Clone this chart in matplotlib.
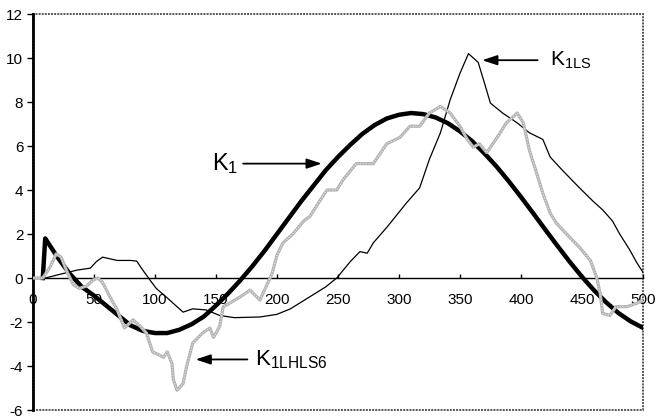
import matplotlib.pyplot as plt
from matplotlib.patches import Rectangle

plt.rcParams["font.family"] = ["Liberation Sans", "DejaVu Sans"]
plt.rcParams["mathtext.fontset"] = "custom"
plt.rcParams["mathtext.rm"] = "Liberation Sans"
plt.rcParams["mathtext.it"] = "Liberation Sans"

# K1 (thick black)
k1_x = [8, 10, 20, 30, 40, 50, 60, 70, 80, 90, 100, 110, 120, 130, 140,
        150, 160, 170, 180, 190, 200, 210, 220, 230, 240, 250, 260, 270, 280, 290,
        300, 310, 320, 330, 340, 350, 360, 370, 380, 390, 400, 410, 420, 430, 440,
        450, 460, 470, 480, 490, 500]
k1_y = [0, 1.8, 0.95, 0.2, -0.4, -0.8, -1.25, -1.7, -2.15, -2.4, -2.5, -2.5, -2.35, -2.1, -1.75,
        -1.25, -0.7, -0.1, 0.55, 1.25, 2.0, 2.75, 3.5, 4.2, 4.9, 5.5, 6.05, 6.55, 6.95, 7.25,
        7.42, 7.5, 7.45, 7.3, 7.04, 6.67, 6.22, 5.67, 5.07, 4.4, 3.69, 2.95, 2.2, 1.46, 0.74,
        0.06, -0.56, -1.11, -1.59, -1.97, -2.26]

# K1LS (thin black)
ls_x = [10, 20, 36, 47, 52, 57, 69, 80, 85, 90, 96, 101, 110, 123, 131, 142, 153, 165,
        186, 200, 211, 227, 240, 249, 260, 268, 274, 279, 290, 306, 317, 325, 334, 342,
        350, 357, 365, 371, 375, 385, 397, 407, 418, 424, 434, 448, 459, 467, 475, 481,
        489, 495, 500]
ls_y = [0, 0.14, 0.36, 0.45, 0.75, 0.95, 0.8, 0.8, 0.77, 0.36, -0.1, -0.47, -0.9, -1.55,
        -1.4, -1.45, -1.7, -1.8, -1.77, -1.65, -1.4, -0.85, -0.4, 0, 0.74, 1.2, 1.13, 1.6,
        2.3, 3.4, 4.1, 5.4, 6.6, 8.1, 9.3, 10.2, 9.8, 8.7, 7.95, 7.5, 7.05, 6.6, 6.3, 5.5,
        4.9, 4.1, 3.5, 3.1, 2.6, 2.0, 1.3, 0.7, 0.27]

# K1LHLS6 (grey)
lh_x = [0, 8, 14, 19, 23, 28, 33, 38, 44, 49, 53, 57, 63, 69, 75, 82, 88, 93, 98, 107,
        110, 114, 115, 118, 123, 126, 131, 139, 145, 148, 153, 156, 161, 170, 178, 186,
        191, 196, 200, 205, 213, 222, 227, 235, 241, 249, 254, 265, 279, 290, 301, 309,
        317, 325, 334, 342, 350, 356, 361, 366, 372, 377, 383, 388, 397, 402, 407, 413,
        418, 424, 429, 440, 448, 457, 462, 465, 467, 473, 478, 487, 495, 500]
lh_y = [0, 0, 0.5, 1.1, 0.95, 0.27, -0.3, -0.47, -0.36, -0.1, 0, -0.2, -0.85, -1.45,
        -2.27, -1.9, -2.2, -2.5, -3.35, -3.6, -3.35, -3.9, -4.6, -5.1, -4.8, -4.0, -2.95,
        -2.5, -2.27, -2.7, -2.2, -1.3, -1.15, -0.85, -0.55, -1.0, -0.4, 0.2, 1.05, 1.6,
        2.0, 2.6, 2.8, 3.5, 4.0, 4.0, 4.45, 5.2, 5.2, 6.1, 6.4, 6.9, 6.9, 7.5, 7.8, 7.5,
        6.9, 6.3, 5.95, 6.1, 5.7, 6.1, 6.6, 7.05, 7.5, 7.05, 5.8, 4.75, 3.85, 2.95, 2.5,
        1.85, 1.4, 0.8, 0.05, -0.7, -1.6, -1.7, -1.3, -1.3, -1.15, -1.0]

x_ticks = [0, 50, 100, 150, 200, 250, 300, 350, 400, 450, 500]
y_ticks = [-6, -4, -2, 0, 2, 4, 6, 8, 10, 12]

fig = plt.figure(figsize=(6.58, 4.18), dpi=100)
ax = fig.add_axes([0.0502, 0.019, 0.9268, 0.9475])

ax.plot(k1_x, k1_y, color="black", lw=3.2, solid_joinstyle="round", zorder=3)
ax.plot(ls_x, ls_y, color="black", lw=0.9, zorder=4)
ax.plot(lh_x, lh_y, color="#b4b4b4", lw=2.3, zorder=5)
ax.plot(lh_x, lh_y, color="#e6e6e6", lw=0.8, ls=(0, (1, 1.5)), zorder=6)

ax.set_xlim(0, 500)
ax.set_ylim(-6, 12)
ax.set_xticks(x_ticks)
ax.set_yticks(y_ticks)
ax.set_xticklabels([str(v) for v in x_ticks])
ax.set_yticklabels([str(v) for v in y_ticks])

ax.spines["bottom"].set_position(("data", 0))
ax.spines["bottom"].set_linewidth(1)
ax.spines["left"].set_linewidth(2)
ax.spines["top"].set_visible(False)
ax.spines["right"].set_visible(False)
ax.add_patch(Rectangle((0, 0), 1, 1, transform=ax.transAxes, fill=False,
                       ls=(0, (1, 0.6)), lw=1.4, ec="#555555", clip_on=False, zorder=1))

ax.tick_params(axis="y", direction="out", length=4, width=1, labelsize=11, pad=3)
ax.tick_params(axis="x", direction="in", length=3, width=1, labelsize=11, pad=11)

arrow = dict(arrowstyle="-|>,head_length=0.9,head_width=0.3", color="black", lw=1.3)
ax.annotate("", xy=(239, 5.2), xytext=(170, 5.2), arrowprops=arrow)
ax.text(147, 5.2, r"K$_{1}$", fontsize=17, va="center", ha="left")

ax.annotate("", xy=(366, 9.9), xytext=(416, 9.9), arrowprops=arrow)
ax.text(424, 9.9, r"K$_{1\mathrm{LS}}$", fontsize=15, va="center", ha="left")

ax.annotate("", xy=(131, -3.7), xytext=(178, -3.7), arrowprops=arrow)
ax.text(182, -3.7, r"K$_{1\mathrm{LHLS6}}$", fontsize=16, va="center", ha="left")

fig.savefig("out.png", dpi=100)
